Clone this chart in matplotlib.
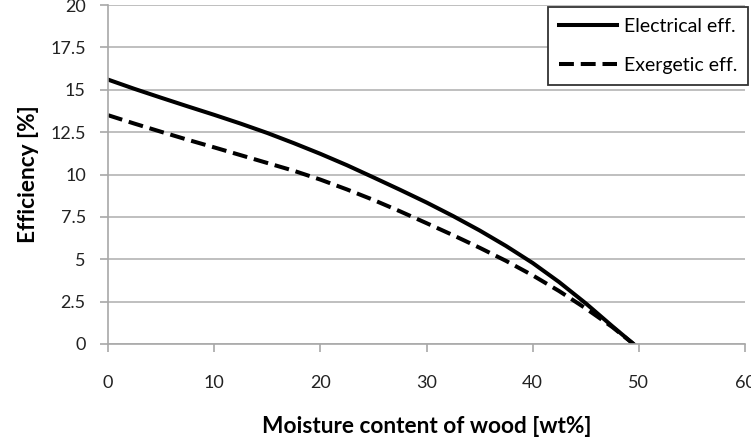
import matplotlib
matplotlib.use("Agg")
import matplotlib.pyplot as plt

# values
moisture = [0, 2.5, 5, 7.5, 10, 12.5, 15, 17.5, 20, 22.5, 25, 27.5, 30,
            32.5, 35, 37.5, 40, 42.5, 45, 47.5, 49.5]
electrical_eff = [15.6, 15.05, 14.53, 14.02, 13.52, 13.0, 12.45, 11.85, 11.22, 10.55, 9.83,
                  9.1, 8.35, 7.55, 6.7, 5.78, 4.78, 3.65, 2.4, 1.05, 0]
exergetic_eff = [13.5, 13.0, 12.52, 12.05, 11.6, 11.14, 10.68, 10.22, 9.7, 9.12, 8.5,
                 7.83, 7.13, 6.42, 5.68, 4.9, 4.05, 3.12, 2.1, 1.0, 0]

x_ticks = [0, 10, 20, 30, 40, 50, 60]
y_ticks = [0, 2.5, 5, 7.5, 10, 12.5, 15, 17.5, 20]
y_tick_labels = ["0", "2.5", "5", "7.5", "10", "12.5", "15", "17.5", "20"]

plt.rcParams['font.family'] = ['Lato', 'DejaVu Sans']

fig = plt.figure(figsize=(7.51, 4.43), dpi=100)
ax = fig.add_axes([108 / 751, 1 - 344 / 443, (745 - 108) / 751, (344 - 5) / 443])

ax.plot(moisture, electrical_eff, color='black', lw=2.9, label='Electrical eff.')
ax.plot(moisture, exergetic_eff, color='black', lw=2.9, dashes=(3.7, 1.7), label='Exergetic eff.')

ax.set_xlim(0, 60)
ax.set_ylim(0, 20)
ax.set_xticks(x_ticks)
ax.set_yticks(y_ticks)
ax.set_yticklabels(y_tick_labels)
ax.yaxis.grid(True, color='#b4b4b4', lw=1.2)
ax.set_axisbelow(True)

for side in ['top', 'right']:
    ax.spines[side].set_visible(False)
for side in ['left', 'bottom']:
    ax.spines[side].set_color('#a8a8a8')
    ax.spines[side].set_linewidth(1.2)
ax.tick_params(axis='both', colors='#a8a8a8', length=6, width=1.2, labelsize=13, labelcolor='#222222')
ax.tick_params(axis='x', pad=16)
ax.tick_params(axis='y', pad=10)

ax.set_xlabel('Moisture content of wood [wt%]', fontsize=16.3, fontweight='bold', labelpad=18)
ax.set_ylabel('Efficiency [%]', fontsize=16.3, fontweight='bold', labelpad=8)

leg = ax.legend(loc='upper right', bbox_to_anchor=(748 / 751, 1 - 7 / 443),
                bbox_transform=fig.transFigure, borderaxespad=0, fancybox=False,
                edgecolor='#333333', fontsize=14, handlelength=3.0, labelspacing=1.15,
                handletextpad=0.35, borderpad=0.55, framealpha=1)
leg.get_frame().set_linewidth(1.3)

fig.savefig('out.png', dpi=100)
